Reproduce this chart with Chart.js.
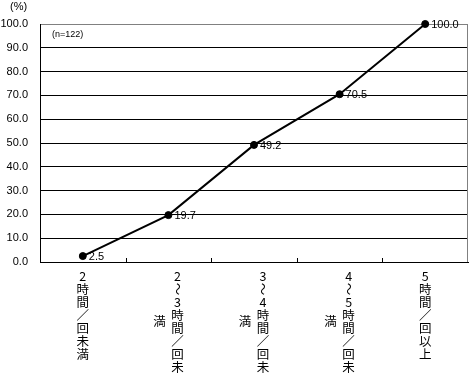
<!DOCTYPE html>
<html><head><meta charset="utf-8">
<script src="https://cdn.jsdelivr.net/npm/chart.js@4/dist/chart.umd.min.js"></script>
<style>html,body{margin:0;padding:0;background:#fff}#wrap{width:474px;height:374px}</style>
</head><body><div id="wrap"><canvas id="c" width="474" height="374"></canvas></div>
<script>
const categories = ["2時間／回未満", "2～3時間／回未満", "3～4時間／回未満", "4～5時間／回未満", "5時間／回以上"];
const values = [2.5, 19.7, 49.2, 70.5, 100.0];
const yMin = 0, yMax = 100, yStep = 10;
const unitLabel = "(%)";
const sampleLabel = "(n=122)";

const LATIN = "'Liberation Sans', Arial, sans-serif";
const CJK = "'Noto Sans CJK JP', sans-serif";

const decorPlugin = {
  id: 'decor',
  afterDatasetsDraw(chart) {
    const ctx = chart.ctx;
    const meta = chart.getDatasetMeta(0);
    ctx.save();
    ctx.fillStyle = '#000';
    ctx.font = '11px ' + LATIN;
    ctx.textAlign = 'left';
    ctx.textBaseline = 'middle';
    meta.data.forEach((pt, i) => {
      ctx.fillText(values[i].toFixed(1), pt.x + 6, pt.y + 1);
    });
    ctx.restore();
  },
  afterDraw(chart) {
    const ctx = chart.ctx;
    const area = chart.chartArea;
    const xs = chart.scales.x;
    ctx.save();
    ctx.strokeStyle = '#808080';
    ctx.lineWidth = 1;
    ctx.beginPath();
    ctx.moveTo(Math.round(area.right) - 0.5, area.top);
    ctx.lineTo(Math.round(area.right) - 0.5, area.bottom);
    ctx.stroke();
    ctx.strokeStyle = '#000';
    for (let i = 0; i < categories.length - 1; i++) {
      const bx = Math.round((xs.getPixelForValue(i) + xs.getPixelForValue(i + 1)) / 2) + 0.5;
      ctx.beginPath();
      ctx.moveTo(bx, area.bottom);
      ctx.lineTo(bx, area.bottom - 4);
      ctx.stroke();
    }
    ctx.fillStyle = '#000';
    ctx.font = '11px ' + LATIN;
    ctx.textAlign = 'left';
    ctx.textBaseline = 'middle';
    ctx.fillText(unitLabel, 10, 7);
    ctx.font = '9px ' + LATIN;
    ctx.fillText(sampleLabel, 52, 35);
    ctx.font = '12.5px ' + CJK;
    ctx.textAlign = 'center';
    const rowH = 13, perCol = 8;
    const y0 = area.bottom + 14;
    categories.forEach((lab, i) => {
      const chars = Array.from(lab);
      const col1 = chars.slice(0, perCol), col2 = chars.slice(perCol);
      const cx = xs.getPixelForValue(i);
      const x1 = col2.length ? cx + 9 : cx;
      const drawCh = (ch, x, y) => {
        if (ch === '～') {
          ctx.save(); ctx.translate(x, y); ctx.rotate(Math.PI / 2);
          ctx.fillText(ch, 0, 0); ctx.restore();
        } else {
          ctx.fillText(ch, x, y);
        }
      };
      col1.forEach((ch, k) => drawCh(ch, x1, y0 + k * rowH));
      if (col2.length) {
        const mid = y0 + (col1.length - 1) * rowH / 2;
        const s = mid - (col2.length - 1) * rowH / 2;
        col2.forEach((ch, k) => drawCh(ch, cx - 9, s + k * rowH));
      }
    });
    ctx.restore();
  }
};

new Chart(document.getElementById('c'), {
  type: 'line',
  data: {
    labels: categories,
    datasets: [{
      data: values,
      borderColor: '#000',
      borderWidth: 2,
      pointRadius: 3.5,
      pointBorderWidth: 1,
      pointBackgroundColor: '#000',
      pointBorderColor: '#000',
      tension: 0,
      clip: false
    }]
  },
  options: {
    responsive: false,
    animation: false,
    devicePixelRatio: 1,
    layout: { padding: { top: 24, right: 6, left: 0, bottom: 0 } },
    plugins: { legend: { display: false }, tooltip: { enabled: false } },
    scales: {
      x: {
        type: 'category',
        offset: true,
        ticks: { display: false },
        grid: { display: false },
        border: { display: true, color: '#000', width: 1 },
        afterFit: s => { s.height = 112; }
      },
      y: {
        min: yMin, max: yMax,
        ticks: {
          stepSize: yStep,
          padding: 12,
          color: '#000',
          font: { family: LATIN, size: 11 },
          callback: v => Number(v).toFixed(1)
        },
        grid: {
          drawTicks: false,
          color: c => (c.tick && c.tick.value === yMax) ? '#808080' : '#000',
          lineWidth: 1
        },
        border: { display: true, color: '#000', width: 1 },
        afterFit: s => { s.width = 40; }
      }
    }
  },
  plugins: [decorPlugin]
});
</script>
</body></html>
